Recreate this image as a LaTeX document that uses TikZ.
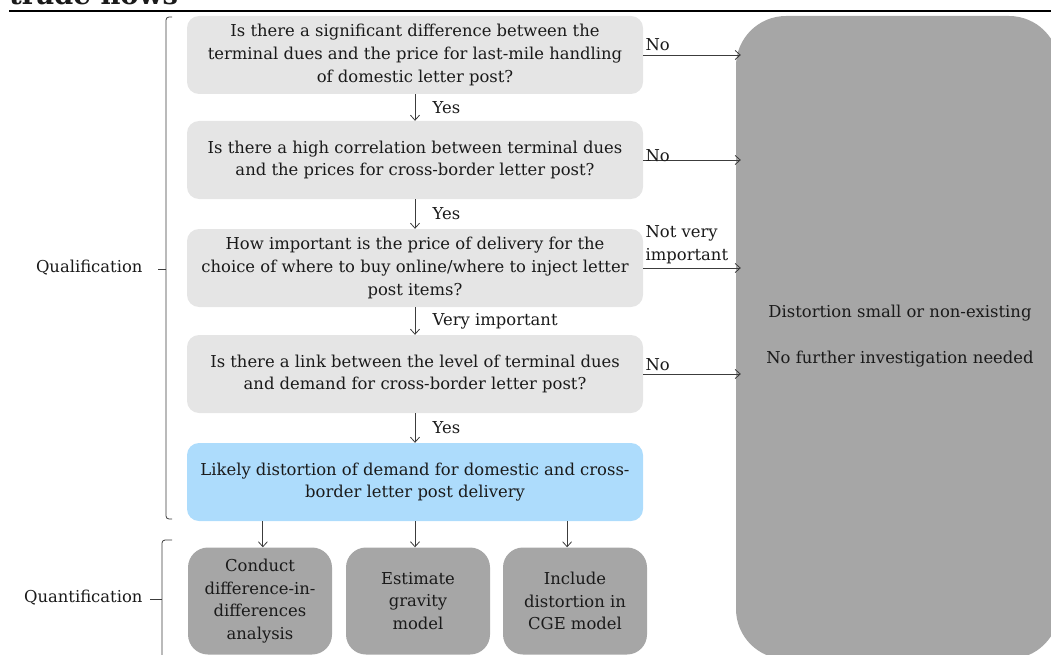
\documentclass[tikz,border=0pt]{standalone}
\usepackage{fontspec}
\setmainfont{DejaVu Serif}
\usetikzlibrary{arrows.meta}
\definecolor{qgray}{HTML}{E5E5E5}
\definecolor{dgray}{HTML}{A6A6A6}
\definecolor{lblue}{HTML}{ADDCFC}
\definecolor{ink}{HTML}{1A1A1A}

\begin{document}
\begin{tikzpicture}[x=1pt,y=-1pt,
    font=\fontsize{16.4}{22.8}\selectfont, text=ink,
    question/.style={fill=qgray, rounded corners=12pt, minimum width=456pt, minimum height=78pt, align=center, inner sep=0pt},
    result/.style={question, fill=lblue},
    method/.style={fill=dgray, rounded corners=20pt, minimum width=144pt, minimum height=107pt, align=center, inner sep=0pt},
    flow/.style={draw=ink!85, line width=0.8pt, -{Straight Barb[length=5pt,width=9pt]}},
    brace/.style={draw=ink!85, line width=0.8pt}]
	%%%%% START %%%%%
	\def\cx{415}
	\useasboundingbox (0,0) rectangle (1051,655);
	
	\node[anchor=base west, inner sep=0pt, font=\fontsize{27.5}{30}\selectfont\bfseries] (title) at (9,5) {trade flows};
	\draw[line width=2.5pt] (9,11) -- (1051,11);
	
	\node[fill=dgray, rounded corners=50pt, minimum width=323pt, minimum height=643pt, inner sep=0pt] (stop) at (897.5,337.5) {};
	\node[align=center] (verdict) at (900,336) {Distortion small or non-existing\\[23.2pt]No further investigation needed};
	
	\node[question] (q1) at (\cx,55) {Is there a significant difference between the\\terminal dues and the price for last-mile handling\\of domestic letter post?};
	\node[question] (q2) at (\cx,160) {Is there a high correlation between terminal dues\\and the prices for cross-border letter post?};
	\node[question] (q3) at (\cx,268) {How important is the price of delivery for the\\choice of where to buy online/where to inject letter\\post items?};
	\node[question] (q4) at (\cx,374) {Is there a link between the level of terminal dues\\and demand for cross-border letter post?};
	\node[result] (res) at (\cx,482) {Likely distortion of demand for domestic and cross-\\border letter post delivery};
	
	\node[method] (m1) at (260,601) {Conduct\\difference-in-\\differences\\analysis};
	\node[method] (m2) at (418,601) {Estimate\\gravity\\model};
	\node[method] (m3) at (575,601) {Include\\distortion in\\CGE model};
	
	\draw[flow] (q1) -- (q2) node[midway, right, xshift=14pt] {Yes};
	\draw[flow] (q2) -- (q3) node[midway, right, xshift=14pt] {Yes};
	\draw[flow] (q3) -- (q4) node[midway, right, xshift=14pt] {Very important};
	\draw[flow] (q4) -- (res) node[midway, right, xshift=14pt] {Yes};
	
	\draw[flow, shorten >=-5pt] (q1.east) -- (q1.east -| stop.west) node[pos=0, anchor=base west, inner sep=0pt, xshift=2pt, yshift=4pt] {No};
	\draw[flow, shorten >=-5pt] (q2.east) -- (q2.east -| stop.west) node[pos=0, anchor=base west, inner sep=0pt, xshift=2pt, yshift=-1pt] {No};
	\draw[flow, shorten >=-5pt] (q3.east) -- (q3.east -| stop.west) node[pos=0, anchor=south west, inner sep=0pt, xshift=2pt, yshift=4pt, align=left] {Not very\\important};
	\draw[flow, shorten >=-5pt] (q4.east) -- (q4.east -| stop.west) node[pos=0, anchor=base west, inner sep=0pt, xshift=2pt, yshift=4pt] {No};
	
	\path (res.south west) -- (res.south east) coordinate[pos=1/6] (r1) coordinate[pos=0.5] (r2) coordinate[pos=5/6] (r3);
	\draw[flow] (r1) -- (r1 |- m1.north);
	\draw[flow] (r2) -- (r2 |- m2.north);
	\draw[flow] (r3) -- (r3 |- m3.north);
	
	% brackets on the left
	\draw[brace, rounded corners=3pt] (172,17) -- (166,17) -- (166,519) -- (172,519);
	\draw[brace] (166,269) -- (158,269);
	\node[anchor=east] (qual) at (146,268) {Qualification};
	
	\draw[brace, rounded corners=3pt] (172,540) -- (162,540) -- (162,660);
	\draw[brace] (162,599) -- (150,599);
	\node[anchor=east] (quant) at (146,598) {Quantification};
	%%%%% START %%%%%
\end{tikzpicture}
\end{document}
